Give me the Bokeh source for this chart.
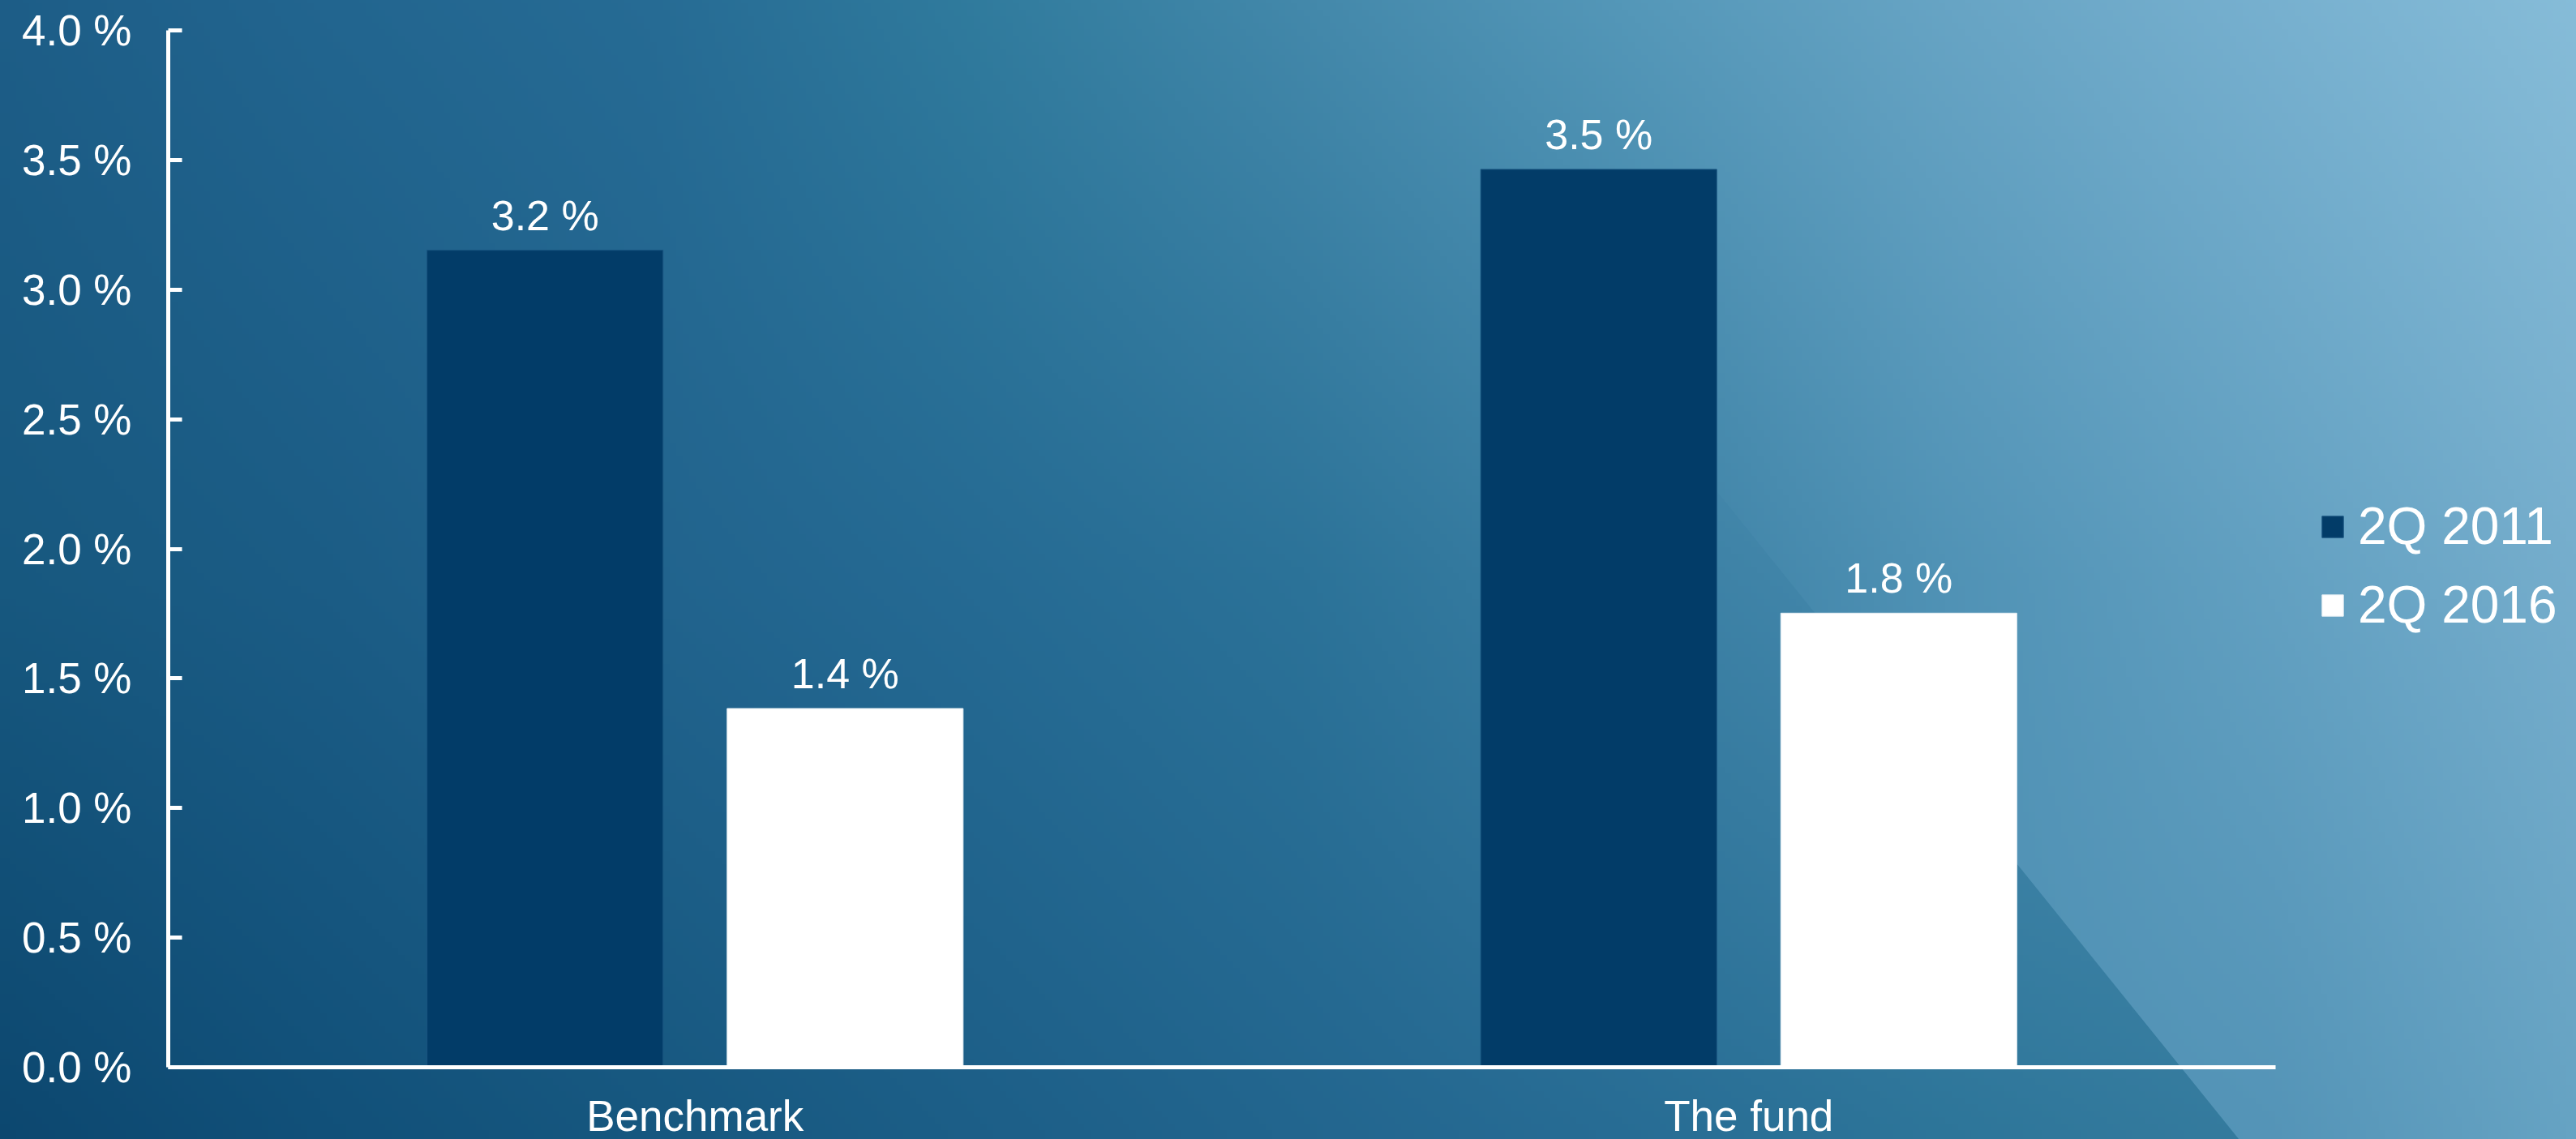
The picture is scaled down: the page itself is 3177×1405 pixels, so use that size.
import base64
import struct
import zlib
from urllib.parse import quote

import numpy as np
from bokeh.core.properties import value
from bokeh.embed import file_html
from bokeh.models import (ColumnDataSource, FactorRange, FixedTicker, Legend,
                          LegendItem, PrintfTickFormatter, Range1d)
from bokeh.plotting import figure
from bokeh.resources import INLINE
from bokeh.transform import dodge

# ---------------- data ----------------
categories = ["Benchmark", "The fund"]
series_names = ["2Q 2011", "2Q 2016"]
values_2011 = [3.152, 3.464]
values_2016 = [1.384, 1.752]
y_ticks = [0.0, 0.5, 1.0, 1.5, 2.0, 2.5, 3.0, 3.5, 4.0]

FONT = "Liberation Sans"
DARK = "#023c68"
W, H = 3177, 1405

# ---------------- background (slide decoration) ----------------
bg_cols = [0, 400, 800, 1200, 1600, 2000, 2400, 2800, 3177]
bg_rows = [0, 720, 1405]
bg_base = [
    ["#1d5d87", "#22658f", "#266b94", "#307b9d", "#4388aa", "#5497b8", "#67a4c4", "#77b0cf", "#86bcd8"],
    ["#17587f", "#1b5c85", "#21638d", "#256a93", "#2b7298", "#3a7fa3", "#4689ad", "#488cae", "#4e91b3"],
    ["#0c476f", "#115079", "#16577f", "#1c5e87", "#22658e", "#276c94", "#2d7599", "#357b9e", "#3b80a2"],
]
bg_panel = [
    ["#1d5d87", "#22658f", "#266b94", "#307b9d", "#4388aa", "#5497b8", "#67a4c4", "#77b0cf", "#86bcd8"],
    ["#17587f", "#1b5c85", "#21638d", "#256a93", "#2b7298", "#3a7fa3", "#5092b5", "#62a0c1", "#75adcc"],
    ["#0c476f", "#115079", "#16577f", "#1c5e87", "#22658e", "#276c94", "#4e90b3", "#5494b7", "#66a3c3"],
]


def grid_png(grid, nx=398, ny=176):
    arr = np.array([[[int(c[i:i + 2], 16) for i in (1, 3, 5)] for c in row] for row in grid], float)
    xs = (np.arange(nx) + 0.5) * W / nx
    ys = (np.arange(ny) + 0.5) * H / ny
    rows = np.stack([np.stack([np.interp(xs, bg_cols, arr[r, :, ch]) for ch in range(3)], -1)
                     for r in range(len(bg_rows))])
    img = np.stack([np.stack([np.interp(ys, bg_rows, rows[:, i, ch]) for ch in range(3)], -1)
                    for i in range(nx)], 1)
    img = np.clip(np.round(img), 0, 255).astype(np.uint8)
    raw = b"".join(b"\x00" + img[j].tobytes() for j in range(ny))

    def chunk(t, d):
        c = struct.pack(">I", len(d)) + t + d
        return c + struct.pack(">I", zlib.crc32(t + d) & 0xffffffff)

    png = (b"\x89PNG\r\n\x1a\n" + chunk(b"IHDR", struct.pack(">IIBBBBB", nx, ny, 8, 2, 0, 0, 0))
           + chunk(b"IDAT", zlib.compress(raw, 9)) + chunk(b"IEND", b""))
    return "data:image/png;base64," + base64.b64encode(png).decode()


bg_svg = (
    f"<svg xmlns='http://www.w3.org/2000/svg' width='{W}' height='{H}' viewBox='0 0 {W} {H}' preserveAspectRatio='none'>"
    "<defs><clipPath id='c'><polygon points='1629,0 3177,0 3177,1405 2761,1405'/></clipPath></defs>"
    f"<image href='{grid_png(bg_base)}' x='0' y='0' width='{W}' height='{H}' preserveAspectRatio='none'/>"
    f"<image href='{grid_png(bg_panel)}' x='0' y='0' width='{W}' height='{H}' preserveAspectRatio='none' clip-path='url(#c)'/>"
    "</svg>"
)

# ---------------- figure ----------------
source = ColumnDataSource(dict(
    cat=categories,
    v2011=values_2011,
    v2016=values_2016,
    l2011=[f"{v:.1f} %" for v in values_2011],
    l2016=[f"{v:.1f} %" for v in values_2016],
))

p = figure(x_range=FactorRange(*categories), y_range=Range1d(0, 4),
           output_backend="svg", toolbar_location=None,
           min_border_left=207, min_border_right=0, min_border_top=37, min_border_bottom=89)
p.frame_width = 2599
p.frame_height = 1279

p.styles = {
    "background-image": "url(\"data:image/svg+xml," + quote(bg_svg) + "\")",
    "background-size": f"{W}px {H}px",
    "background-repeat": "no-repeat",
    "background-position": "0 0",
}
p.background_fill_color = None
p.border_fill_color = None
p.outline_line_color = None
p.xgrid.grid_line_color = None
p.ygrid.grid_line_color = None

off = 0.1424
bw = 0.224
r1 = p.vbar(x=dodge("cat", -off, range=p.x_range), top="v2011", width=bw, source=source,
            fill_color=DARK, line_color="#1a5580", line_width=1)
r2 = p.vbar(x=dodge("cat", off, range=p.x_range), top="v2016", width=bw, source=source,
            fill_color="white", line_color="#e4edf3", line_width=1)

for col, o in (("2011", -off), ("2016", off)):
    p.text(x=dodge("cat", o, range=p.x_range), y="v" + col, text="l" + col, source=source,
           text_color="white", text_font=value(FONT), text_font_size="52px",
           text_align="center", text_baseline="alphabetic", y_offset=-43)

# axes
for ax in (p.xaxis[0], p.yaxis[0]):
    ax.axis_line_color = "white"
    ax.axis_line_width = 5
    ax.major_label_text_color = "white"
    ax.major_label_text_font = FONT
    ax.minor_tick_line_color = None

p.yaxis.ticker = FixedTicker(ticks=y_ticks)
p.yaxis.formatter = PrintfTickFormatter(format="%.1f %%")
p.yaxis.major_tick_in = 17
p.yaxis.major_tick_out = 0
p.yaxis.major_tick_line_color = "white"
p.yaxis.major_tick_line_width = 5
p.yaxis.major_label_text_font_size = "53px"
p.yaxis.major_label_standoff = 45

p.xaxis.major_tick_line_color = None
p.xaxis.major_label_text_font_size = "53px"
p.xaxis.major_label_standoff = 24

# the right panel is exactly 371 px wide: 33 + 15 + 323
legend = Legend(items=[LegendItem(label=series_names[0], renderers=[r1]),
                       LegendItem(label=series_names[1], renderers=[r2])],
                location=(54, 533), orientation="vertical",
                glyph_width=33, glyph_height=33, label_standoff=15, spacing=23,
                label_width=323,
                padding=0, margin=0, border_line_color=None, background_fill_alpha=0,
                label_text_font=FONT, label_text_font_size="64px", label_text_color="white")
p.add_layout(legend, "right")

open("out.html", "w").write(file_html(p, INLINE))
